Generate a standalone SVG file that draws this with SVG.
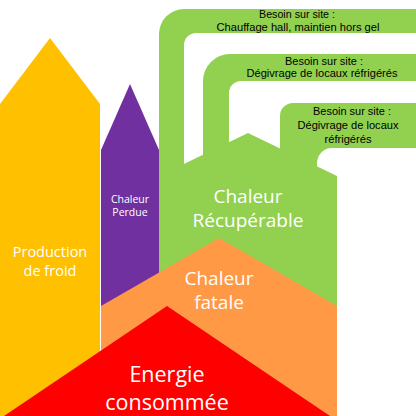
<svg xmlns="http://www.w3.org/2000/svg" width="416" height="416" viewBox="0 0 416 416">
<style>
.g{fill:#92D050}
.w{fill:#FFFFFF;font-family:"Open Sans","Noto Sans",sans-serif;text-anchor:middle}
.b{fill:#000000;font-family:"Liberation Sans","Open Sans",sans-serif;font-size:10.5px;text-anchor:middle}
</style>
<rect width="416" height="416" fill="#FFFFFF"/>
<g id="recuperable">
<path class="g" d="M159,320 V176 L248,133 L337,176 V320 Z"/>
<path class="g" d="M159,200 V34 A25,25 0 0 1 184,9 H416 V33 H196 A12,12 0 0 0 184,45 V200 Z"/>
<path class="g" d="M203,200 V81 A27,27 0 0 1 230,54 H416 V81 H241 A12,12 0 0 0 229,93 V200 Z"/>
<path class="g" d="M280,200 V116 A13,13 0 0 1 293,103 H416 V148 H332 A15,15 0 0 0 317,163 V200 Z"/>
<text class="w" x="248" y="203" font-size="19">Chaleur</text>
<text class="w" x="248" y="227" font-size="19">Récupérable</text>
</g>
<g id="besoin1">
<text class="b" x="297" y="18" textLength="76" lengthAdjust="spacingAndGlyphs">Besoin sur site :</text>
<text class="b" x="298" y="30.5" textLength="163" lengthAdjust="spacingAndGlyphs">Chauffage hall, maintien hors gel</text>
</g>
<g id="besoin2">
<text class="b" x="324" y="65" textLength="78" lengthAdjust="spacingAndGlyphs">Besoin sur site :</text>
<text class="b" x="322" y="77" textLength="151" lengthAdjust="spacingAndGlyphs">Dégivrage de locaux réfrigérés</text>
</g>
<g id="besoin3">
<text class="b" x="352" y="115" textLength="78" lengthAdjust="spacingAndGlyphs">Besoin sur site :</text>
<text class="b" x="348" y="129" textLength="101" lengthAdjust="spacingAndGlyphs">Dégivrage de locaux</text>
<text class="b" x="348" y="143" textLength="47" lengthAdjust="spacingAndGlyphs">réfrigérés</text>
</g>
<g id="froid">
<polygon points="0,416 0,104 50,38 100,104 100,416" fill="#FFC000"/>
<text class="w" x="50" y="257" font-size="14.5">Production</text>
<text class="w" x="50" y="276" font-size="14.5">de froid</text>
</g>
<g id="perdue">
<polygon points="101,330 101,150 130,84 159,150 159,330" fill="#7030A0"/>
<text class="w" x="130" y="203" font-size="10.5">Chaleur</text>
<text class="w" x="130" y="216" font-size="10.5">Perdue</text>
</g>
<g id="fatale">
<polygon points="101,416 101,306 219,238 337,306 337,416" fill="#FF9945"/>
<text class="w" x="219" y="285" font-size="19">Chaleur</text>
<text class="w" x="219" y="309" font-size="19">fatale</text>
</g>
<g id="energie">
<polygon points="4,416 167,306 330,416" fill="#FF0000"/>
<text class="w" x="167" y="382" font-size="21.5">Energie</text>
<text class="w" x="167" y="410" font-size="21.5">consommée</text>
</g>
<g id="connectors"/>
</svg>
